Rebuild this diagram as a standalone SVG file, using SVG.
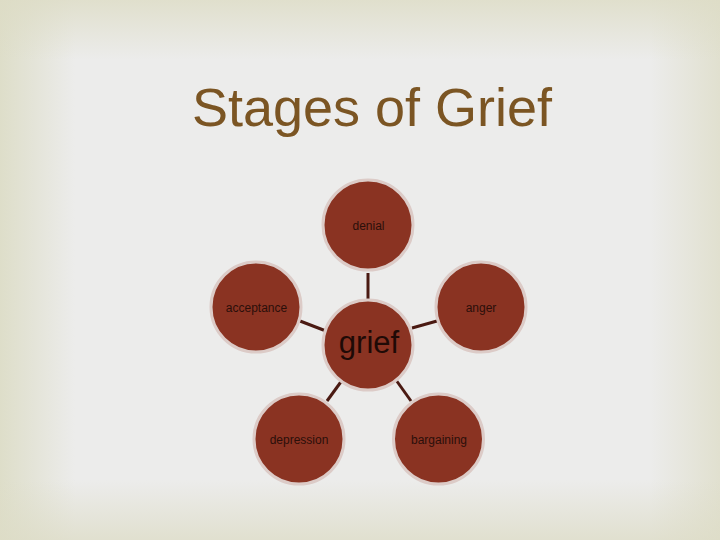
<svg xmlns="http://www.w3.org/2000/svg" width="720" height="540" viewBox="0 0 720 540">
  <defs>
    <linearGradient id="gl" x1="0" y1="0" x2="1" y2="0">
      <stop offset="0" stop-color="#dcdcc5" stop-opacity="0.9"/>
      <stop offset="1" stop-color="#dcdcc5" stop-opacity="0"/>
    </linearGradient>
    <linearGradient id="gr" x1="1" y1="0" x2="0" y2="0">
      <stop offset="0" stop-color="#dddcc6" stop-opacity="0.75"/>
      <stop offset="1" stop-color="#dddcc6" stop-opacity="0"/>
    </linearGradient>
    <linearGradient id="gt" x1="0" y1="0" x2="0" y2="1">
      <stop offset="0" stop-color="#dddcc5" stop-opacity="0.8"/>
      <stop offset="1" stop-color="#dddcc5" stop-opacity="0"/>
    </linearGradient>
    <linearGradient id="gb" x1="0" y1="1" x2="0" y2="0">
      <stop offset="0" stop-color="#dddcc6" stop-opacity="0.75"/>
      <stop offset="1" stop-color="#dddcc6" stop-opacity="0"/>
    </linearGradient>
  </defs>
  <style>
    .node { fill: #8a3322; stroke: #dccbc7; stroke-width: 3; }
    .lbl { font-family: "Liberation Sans", Arial, sans-serif; font-size: 12px; fill: #2b0f0a; text-anchor: middle; }
    .big { font-family: "Liberation Sans", Arial, sans-serif; font-size: 31px; fill: #1f0a06; text-anchor: middle; }
    .conn { stroke: #4a1a12; stroke-width: 3; fill: none; }
  </style>
  <rect x="0" y="0" width="720" height="540" fill="#ececeb"/>
  <rect x="0" y="0" width="75" height="540" fill="url(#gl)"/>
  <rect x="650" y="0" width="70" height="540" fill="url(#gr)"/>
  <rect x="0" y="0" width="720" height="60" fill="url(#gt)"/>
  <rect x="0" y="480" width="720" height="60" fill="url(#gb)"/>
  <text x="372" y="126" font-family="Liberation Sans, Arial, sans-serif" font-size="54" fill="#7b5523" text-anchor="middle">Stages of Grief</text>
  <g id="connectors">
    <line class="conn" x1="368" y1="273" x2="368" y2="299"/>
    <line class="conn" x1="300" y1="321" x2="326" y2="331"/>
    <line class="conn" x1="412" y1="328" x2="437" y2="321"/>
    <line class="conn" x1="343" y1="379" x2="327" y2="401"/>
    <line class="conn" x1="396" y1="380" x2="411" y2="401"/>
  </g>
  <g id="denial">
    <circle class="node" cx="368" cy="225" r="45"/>
    <text class="lbl" x="368.5" y="230">denial</text>
  </g>
  <g id="grief">
    <circle class="node" cx="368" cy="345" r="45"/>
    <text class="big" x="369" y="353">grief</text>
  </g>
  <g id="acceptance">
    <circle class="node" cx="256" cy="307" r="45"/>
    <text class="lbl" x="256.5" y="312">acceptance</text>
  </g>
  <g id="anger">
    <circle class="node" cx="481" cy="307" r="45"/>
    <text class="lbl" x="481" y="312">anger</text>
  </g>
  <g id="depression">
    <circle class="node" cx="299" cy="439" r="45"/>
    <text class="lbl" x="299" y="444">depression</text>
  </g>
  <g id="bargaining">
    <circle class="node" cx="438.5" cy="439" r="45"/>
    <text class="lbl" x="439" y="444">bargaining</text>
  </g>
</svg>
